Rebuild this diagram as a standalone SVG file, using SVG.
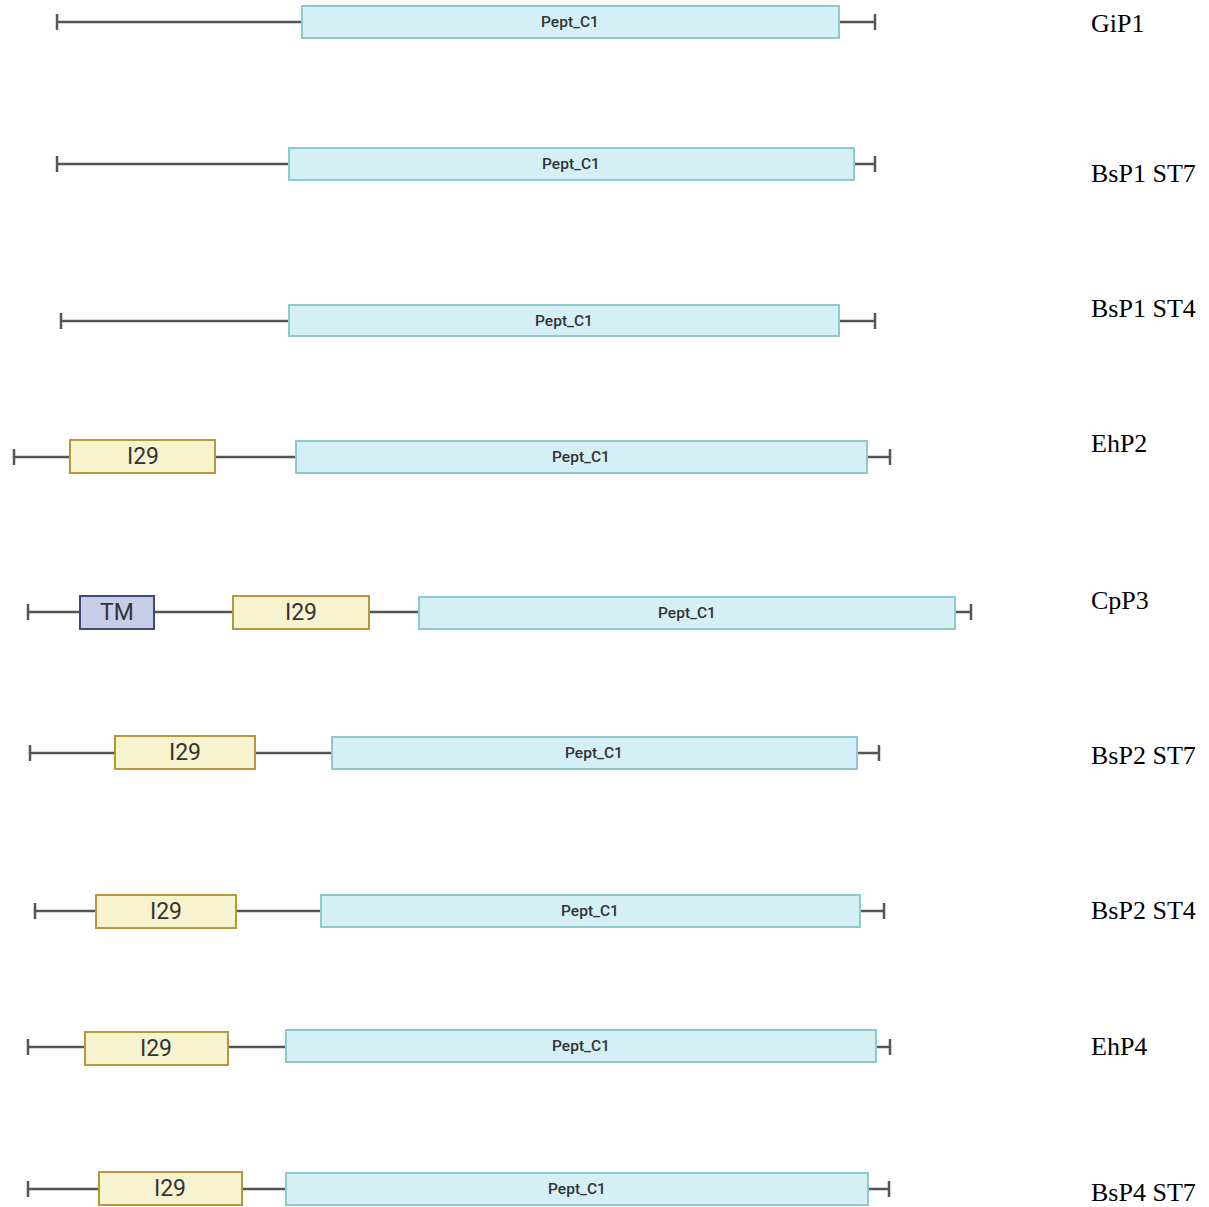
<svg xmlns="http://www.w3.org/2000/svg" width="1209" height="1207" viewBox="0 0 1209 1207">
<style>
.ln{stroke:#555;stroke-width:2.5;fill:none}
.cap{stroke:#555;stroke-width:2.5}
.pept{fill:#d4f0f6;stroke:#8fc9cc;stroke-width:2}
.i29{fill:#f8f3cf;stroke:#b89640;stroke-width:2}
.tm{fill:#c8cde8;stroke:#3f4a78;stroke-width:2}
.pt{font-family:Roboto,"Liberation Sans",sans-serif;font-size:15.5px;font-weight:500;fill:#333;text-anchor:middle;dominant-baseline:central}
.bt{font-family:Roboto,"Liberation Sans",sans-serif;font-size:23px;fill:#333;text-anchor:middle;dominant-baseline:central}
.lab{font-family:"Liberation Serif","Times New Roman",serif;font-size:26px;fill:#000}
</style>
<rect width="1209" height="1207" fill="#fff"/>
<g id="connectors">
<line class="ln" x1="57" y1="22" x2="875" y2="22"/><line class="cap" x1="57" y1="14" x2="57" y2="30"/><line class="cap" x1="875" y1="14" x2="875" y2="30"/>
<line class="ln" x1="57" y1="164" x2="875" y2="164"/><line class="cap" x1="57" y1="156" x2="57" y2="172"/><line class="cap" x1="875" y1="156" x2="875" y2="172"/>
<line class="ln" x1="61" y1="321" x2="875" y2="321"/><line class="cap" x1="61" y1="313" x2="61" y2="329"/><line class="cap" x1="875" y1="313" x2="875" y2="329"/>
<line class="ln" x1="14" y1="457" x2="890" y2="457"/><line class="cap" x1="14" y1="449" x2="14" y2="465"/><line class="cap" x1="890" y1="449" x2="890" y2="465"/>
<line class="ln" x1="28" y1="612" x2="971" y2="612"/><line class="cap" x1="28" y1="604" x2="28" y2="620"/><line class="cap" x1="971" y1="604" x2="971" y2="620"/>
<line class="ln" x1="30" y1="753" x2="879" y2="753"/><line class="cap" x1="30" y1="745" x2="30" y2="761"/><line class="cap" x1="879" y1="745" x2="879" y2="761"/>
<line class="ln" x1="35" y1="911" x2="884" y2="911"/><line class="cap" x1="35" y1="903" x2="35" y2="919"/><line class="cap" x1="884" y1="903" x2="884" y2="919"/>
<line class="ln" x1="28" y1="1047" x2="890" y2="1047"/><line class="cap" x1="28" y1="1039" x2="28" y2="1055"/><line class="cap" x1="890" y1="1039" x2="890" y2="1055"/>
<line class="ln" x1="28" y1="1189" x2="889" y2="1189"/><line class="cap" x1="28" y1="1181" x2="28" y2="1197"/><line class="cap" x1="889" y1="1181" x2="889" y2="1197"/>
</g>
<g id="GiP1">
<rect class="pept" x="302" y="6" width="537" height="32"/><text class="pt" x="570" y="22">Pept_C1</text>
<text class="lab" x="1091" y="32">GiP1</text>
</g>
<g id="BsP1_ST7">
<rect class="pept" x="289" y="148" width="565" height="32"/><text class="pt" x="571" y="164">Pept_C1</text>
<text class="lab" x="1091" y="182">BsP1 ST7</text>
</g>
<g id="BsP1_ST4">
<rect class="pept" x="289" y="305" width="550" height="31"/><text class="pt" x="564" y="321">Pept_C1</text>
<text class="lab" x="1091" y="317">BsP1 ST4</text>
</g>
<g id="EhP2">
<rect class="i29" x="70" y="440" width="145" height="33"/><text class="bt" x="143" y="456">I29</text>
<rect class="pept" x="296" y="441" width="571" height="32"/><text class="pt" x="581" y="457">Pept_C1</text>
<text class="lab" x="1091" y="452">EhP2</text>
</g>
<g id="CpP3">
<rect class="tm" x="80" y="596" width="74" height="33"/><text class="bt" x="117" y="612">TM</text>
<rect class="i29" x="233" y="596" width="136" height="33"/><text class="bt" x="301" y="612">I29</text>
<rect class="pept" x="419" y="597" width="536" height="32"/><text class="pt" x="687" y="613">Pept_C1</text>
<text class="lab" x="1091" y="609">CpP3</text>
</g>
<g id="BsP2_ST7">
<rect class="i29" x="115" y="736" width="140" height="33"/><text class="bt" x="185" y="752">I29</text>
<rect class="pept" x="332" y="737" width="525" height="32"/><text class="pt" x="594" y="753">Pept_C1</text>
<text class="lab" x="1091" y="764">BsP2 ST7</text>
</g>
<g id="BsP2_ST4">
<rect class="i29" x="96" y="895" width="140" height="33"/><text class="bt" x="166" y="911">I29</text>
<rect class="pept" x="321" y="895" width="539" height="32"/><text class="pt" x="590" y="911">Pept_C1</text>
<text class="lab" x="1091" y="919">BsP2 ST4</text>
</g>
<g id="EhP4">
<rect class="i29" x="85" y="1032" width="143" height="33"/><text class="bt" x="156" y="1048">I29</text>
<rect class="pept" x="286" y="1030" width="590" height="32"/><text class="pt" x="581" y="1046">Pept_C1</text>
<text class="lab" x="1091" y="1055">EhP4</text>
</g>
<g id="BsP4_ST7">
<rect class="i29" x="99" y="1172" width="143" height="33"/><text class="bt" x="170" y="1188">I29</text>
<rect class="pept" x="286" y="1173" width="582" height="32"/><text class="pt" x="577" y="1189">Pept_C1</text>
<text class="lab" x="1091" y="1201">BsP4 ST7</text>
</g>
</svg>
